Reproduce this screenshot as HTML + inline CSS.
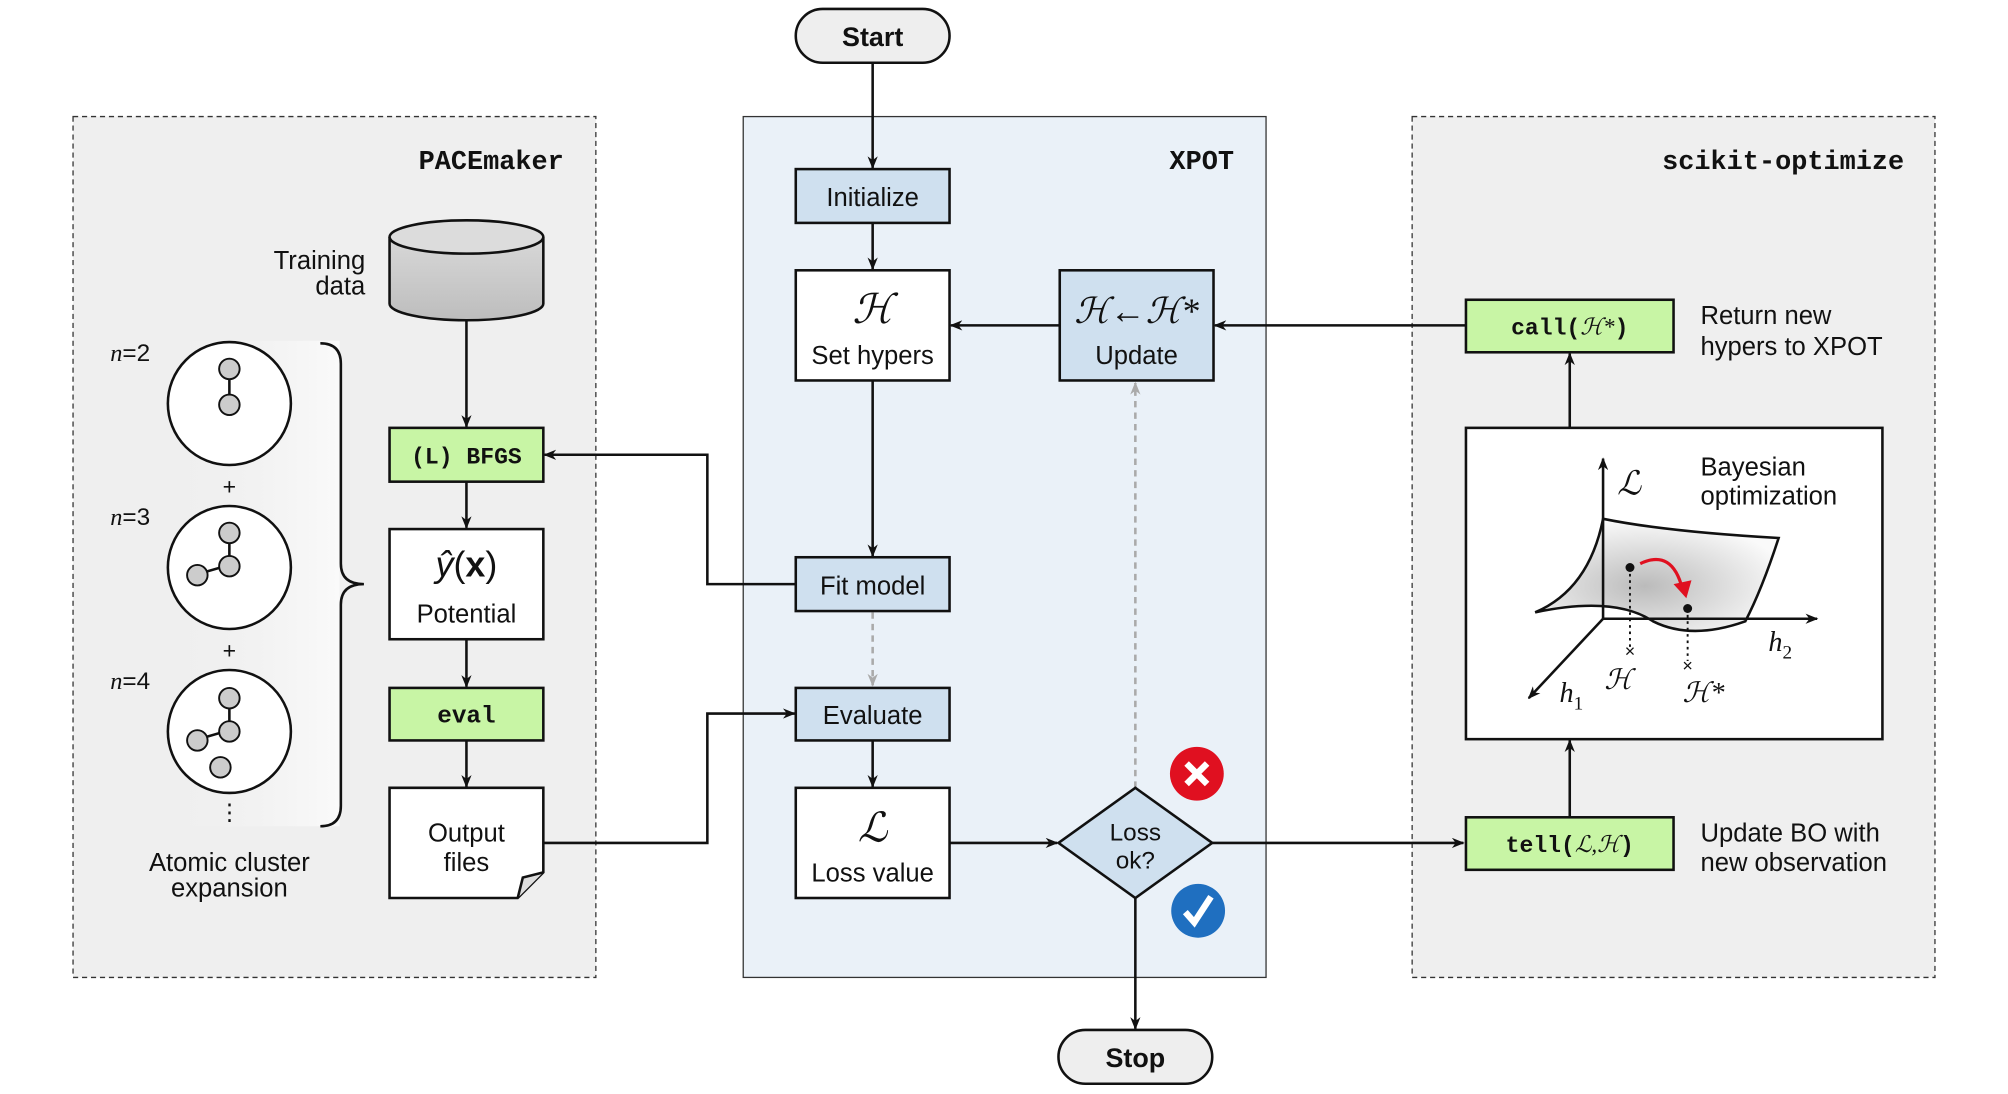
<!DOCTYPE html>
<html><head><meta charset="utf-8"><style>
html,body{margin:0;padding:0;background:#fff;}
svg{display:block;}
text{font-family:"Liberation Sans","DejaVu Sans",sans-serif;fill:#111;}
.m{font-family:"Liberation Mono","DejaVu Sans Mono",monospace;font-weight:bold;}
.s{font-family:"Liberation Serif","DejaVu Serif",serif;font-style:italic;}
</style></head><body>
<svg width="2008" height="1094" viewBox="0 0 1567 854" preserveAspectRatio="none" xmlns="http://www.w3.org/2000/svg">
<defs>
<marker id="a" markerWidth="10" markerHeight="8" refX="9" refY="4" orient="auto" markerUnits="userSpaceOnUse"><path d="M0,0 L10,4 L0,8 L3,4z" fill="#111"/></marker>
<marker id="g" markerWidth="10" markerHeight="8" refX="9" refY="4" orient="auto" markerUnits="userSpaceOnUse"><path d="M0,0 L10,4 L0,8 L3,4z" fill="#aaa"/></marker>
<linearGradient id="cyl" x1="0" x2="0" y1="0" y2="1"><stop offset="0" stop-color="#d8d8d8"/><stop offset="1" stop-color="#bdbdbd"/></linearGradient>
<linearGradient id="bg" x1="0" x2="1"><stop offset="0" stop-color="#efefef" stop-opacity="0"/><stop offset="1" stop-color="#fafafa"/></linearGradient>
<radialGradient id="surf" cx="0.45" cy="0.6" r="0.6"><stop offset="0" stop-color="#bbb"/><stop offset="1" stop-color="#fafafa"/></radialGradient>
</defs>
<rect x="57" y="91" width="408" height="672" fill="#efefef" stroke="#333" stroke-dasharray="4,3"/>
<rect x="580" y="91" width="408" height="672" fill="#eaf1f8" stroke="#333"/>
<rect x="1102" y="91" width="408" height="672" fill="#efefef" stroke="#333" stroke-dasharray="4,3"/>
<text x="440" y="132" text-anchor="end" class="m" font-size="21">PACEmaker</text>
<text x="963" y="132" text-anchor="end" class="m" font-size="21">XPOT</text>
<text x="1486" y="132" text-anchor="end" class="m" font-size="21">scikit-optimize</text>

<g stroke="#111" stroke-width="2" fill="none">
<line x1="681" y1="49" x2="681" y2="131" marker-end="url(#a)"/>
<line x1="681" y1="174" x2="681" y2="210" marker-end="url(#a)"/>
<line x1="681" y1="297" x2="681" y2="434" marker-end="url(#a)"/>
<line x1="681" y1="578" x2="681" y2="614" marker-end="url(#a)"/>
<line x1="741" y1="658" x2="825" y2="658" marker-end="url(#a)"/>
<line x1="946" y1="658" x2="1142" y2="658" marker-end="url(#a)"/>
<line x1="886" y1="701" x2="886" y2="803" marker-end="url(#a)"/>
<line x1="827" y1="254" x2="742" y2="254" marker-end="url(#a)"/>
<line x1="1144" y1="254" x2="948" y2="254" marker-end="url(#a)"/>
<line x1="1225" y1="638" x2="1225" y2="578" marker-end="url(#a)"/>
<line x1="1225" y1="334" x2="1225" y2="276" marker-end="url(#a)"/>
<polyline points="621,456 552,456 552,355 425,355" marker-end="url(#a)"/>
<polyline points="424,658 552,658 552,557 620,557" marker-end="url(#a)"/>
<line x1="364" y1="250" x2="364" y2="333" marker-end="url(#a)"/>
<line x1="364" y1="376" x2="364" y2="412" marker-end="url(#a)"/>
<line x1="364" y1="499" x2="364" y2="536" marker-end="url(#a)"/>
<line x1="364" y1="578" x2="364" y2="614" marker-end="url(#a)"/>
</g>
<g stroke="#aaa" stroke-width="2" fill="none" stroke-dasharray="5,4">
<line x1="681" y1="478" x2="681" y2="535" marker-end="url(#g)"/>
<line x1="886" y1="615" x2="886" y2="299" marker-end="url(#g)"/>
</g>

<g stroke="#111" stroke-width="2">
<rect x="621" y="7" width="120" height="42" rx="21" fill="#eee"/>
<rect x="826" y="804" width="120" height="42" rx="21" fill="#eee"/>
<rect x="621" y="132" width="120" height="42" fill="#cfe0ef"/>
<rect x="621" y="211" width="120" height="86" fill="#fff"/>
<rect x="827" y="211" width="120" height="86" fill="#cfe0ef"/>
<rect x="621" y="435" width="120" height="42" fill="#cfe0ef"/>
<rect x="621" y="537" width="120" height="41" fill="#cfe0ef"/>
<rect x="621" y="615" width="120" height="86" fill="#fff"/>
<polygon points="826,658 886,615 946,658 886,701" fill="#cfe0ef"/>
</g>
<text x="681" y="36" text-anchor="middle" font-size="21" font-weight="bold">Start</text>
<text x="886" y="833" text-anchor="middle" font-size="21" font-weight="bold">Stop</text>
<text x="681" y="161" text-anchor="middle" font-size="20">Initialize</text>
<text x="681" y="252" text-anchor="middle" font-size="32" class="s">ℋ</text>
<text x="681" y="284" text-anchor="middle" font-size="20">Set hypers</text>
<text x="887" y="252" text-anchor="middle" font-size="28" class="s">ℋ←ℋ*</text>
<text x="887" y="284" text-anchor="middle" font-size="20">Update</text>
<text x="681" y="464" text-anchor="middle" font-size="20">Fit model</text>
<text x="681" y="565" text-anchor="middle" font-size="20">Evaluate</text>
<text x="681" y="657" text-anchor="middle" font-size="32" class="s">ℒ</text>
<text x="681" y="688" text-anchor="middle" font-size="20">Loss value</text>
<text x="886" y="656" text-anchor="middle" font-size="19">Loss</text>
<text x="886" y="678" text-anchor="middle" font-size="19">ok?</text>
<circle cx="934" cy="604" r="21" fill="#e01020"/>
<path d="M926,596 L942,612 M942,596 L926,612" stroke="#fff" stroke-width="5"/>
<circle cx="935" cy="711" r="21" fill="#1f6fc0"/>
<path d="M925,712 L932,720 L945,700" stroke="#fff" stroke-width="5" fill="none"/>

<rect x="125" y="266" width="140" height="379" fill="url(#bg)"/>
<path d="M250,268 Q266,268 266,284 L266,440 Q266,456 284,456 Q266,456 266,472 L266,629 Q266,645 250,645" stroke="#111" stroke-width="2" fill="none"/>
<g stroke="#111" stroke-width="2">
<path d="M304,185 L304,237 A60,13 0 0 0 424,237 L424,185" fill="url(#cyl)"/>
<ellipse cx="364" cy="185" rx="60" ry="13" fill="#dcdcdc"/>
<rect x="304" y="334" width="120" height="42" fill="#c8f5a5"/>
<rect x="304" y="413" width="120" height="86" fill="#fff"/>
<rect x="304" y="537" width="120" height="41" fill="#c8f5a5"/>
<path d="M304,615 L424,615 L424,681 L404,701 L304,701 Z" fill="#fff"/>
<path d="M404,701 L408,685 L424,681" fill="#ddd"/>
<circle cx="179" cy="315" r="48" fill="#fff"/>
<circle cx="179" cy="443" r="48" fill="#fff"/>
<circle cx="179" cy="571" r="48" fill="#fff"/>
<line x1="179" y1="289" x2="179" y2="315"/>
<polyline points="179,416 179,441 155,448" fill="none"/>
<polyline points="179,545 179,570 155,577 M179,570 172,598" fill="none"/>
</g>
<g fill="#ccc" stroke="#111" stroke-width="1.5">
<circle cx="179" cy="288" r="8"/><circle cx="179" cy="316" r="8"/>
<circle cx="179" cy="416" r="8"/><circle cx="179" cy="442" r="8"/><circle cx="154" cy="449" r="8"/>
<circle cx="179" cy="545" r="8"/><circle cx="179" cy="571" r="8"/><circle cx="154" cy="578" r="8"/><circle cx="172" cy="599" r="8"/>
</g>
<text x="86" y="282" font-size="19"><tspan class="s">n</tspan>=2</text>
<text x="86" y="410" font-size="19"><tspan class="s">n</tspan>=3</text>
<text x="86" y="538" font-size="19"><tspan class="s">n</tspan>=4</text>
<text x="179" y="386" text-anchor="middle" font-size="18">+</text>
<text x="179" y="514" text-anchor="middle" font-size="18">+</text>
<text x="179" y="640" text-anchor="middle" font-size="18">⋮</text>
<text x="179" y="680" text-anchor="middle" font-size="20">Atomic cluster</text>
<text x="179" y="700" text-anchor="middle" font-size="20">expansion</text>
<text x="285" y="210" text-anchor="end" font-size="20">Training</text>
<text x="285" y="230" text-anchor="end" font-size="20">data</text>
<text x="364" y="362" text-anchor="middle" font-size="18" class="m">(L) BFGS</text>
<text x="364" y="450" text-anchor="middle" font-size="28" font-family="Liberation Serif,serif"><tspan font-style="italic">ŷ</tspan>(<tspan font-weight="bold">x</tspan>)</text>
<text x="364" y="486" text-anchor="middle" font-size="20">Potential</text>
<text x="364" y="564" text-anchor="middle" font-size="19" class="m">eval</text>
<text x="364" y="657" text-anchor="middle" font-size="20">Output</text>
<text x="364" y="680" text-anchor="middle" font-size="20">files</text>

<g stroke="#111" stroke-width="2">
<rect x="1144" y="234" width="162" height="41" fill="#c8f5a5"/>
<rect x="1144" y="334" width="325" height="243" fill="#fff"/>
<rect x="1144" y="638" width="162" height="41" fill="#c8f5a5"/>
</g>
<text x="1225" y="261" text-anchor="middle" font-size="18" class="m">call(<tspan class="s" font-weight="normal">ℋ*</tspan>)</text>
<text x="1225" y="665" text-anchor="middle" font-size="18" class="m">tell(<tspan class="s" font-weight="normal">ℒ,ℋ</tspan>)</text>
<text x="1327" y="253" font-size="20">Return new</text>
<text x="1327" y="277" font-size="20">hypers to XPOT</text>
<text x="1327" y="657" font-size="20">Update BO with</text>
<text x="1327" y="680" font-size="20">new observation</text>
<text x="1327" y="371" font-size="20">Bayesian</text>
<text x="1327" y="394" font-size="20">optimization</text>
<path d="M1198,478 Q1240,460 1251,405 Q1300,415 1388,420 Q1375,460 1362,485 Q1320,500 1290,485 Q1260,465 1198,478 Z" fill="url(#surf)" stroke="#111" stroke-width="2"/>
<g stroke="#111" stroke-width="2" fill="none">
<line x1="1251" y1="483" x2="1251" y2="358" marker-end="url(#a)"/>
<line x1="1251" y1="483" x2="1418" y2="483" marker-end="url(#a)"/>
<line x1="1251" y1="483" x2="1193" y2="545" marker-end="url(#a)"/>
</g>
<g stroke="#111" stroke-width="1.5" stroke-dasharray="2,3"><line x1="1272" y1="443" x2="1272" y2="505"/><line x1="1317" y1="475" x2="1317" y2="516"/></g>
<circle cx="1272" cy="443" r="3.5" fill="#111"/><circle cx="1317" cy="475" r="3.5" fill="#111"/>
<path d="M1280,440 Q1305,428 1313,460" stroke="#e01020" stroke-width="2.5" fill="none"/>
<path d="M1306,456 L1316,467 L1320,453 Z" fill="#e01020"/>
<text x="1272" y="513" text-anchor="middle" font-size="14">×</text>
<text x="1317" y="524" text-anchor="middle" font-size="14">×</text>
<text x="1262" y="386" font-size="26" class="s">ℒ</text>
<text x="1380" y="508" font-size="22" class="s">h<tspan font-size="15" dy="6" font-style="normal">2</tspan></text>
<text x="1217" y="548" font-size="22" class="s">h<tspan font-size="15" dy="6" font-style="normal">1</tspan></text>
<text x="1252" y="538" font-size="22" class="s">ℋ</text>
<text x="1313" y="548" font-size="22" class="s">ℋ*</text>
</svg>
</body></html>
